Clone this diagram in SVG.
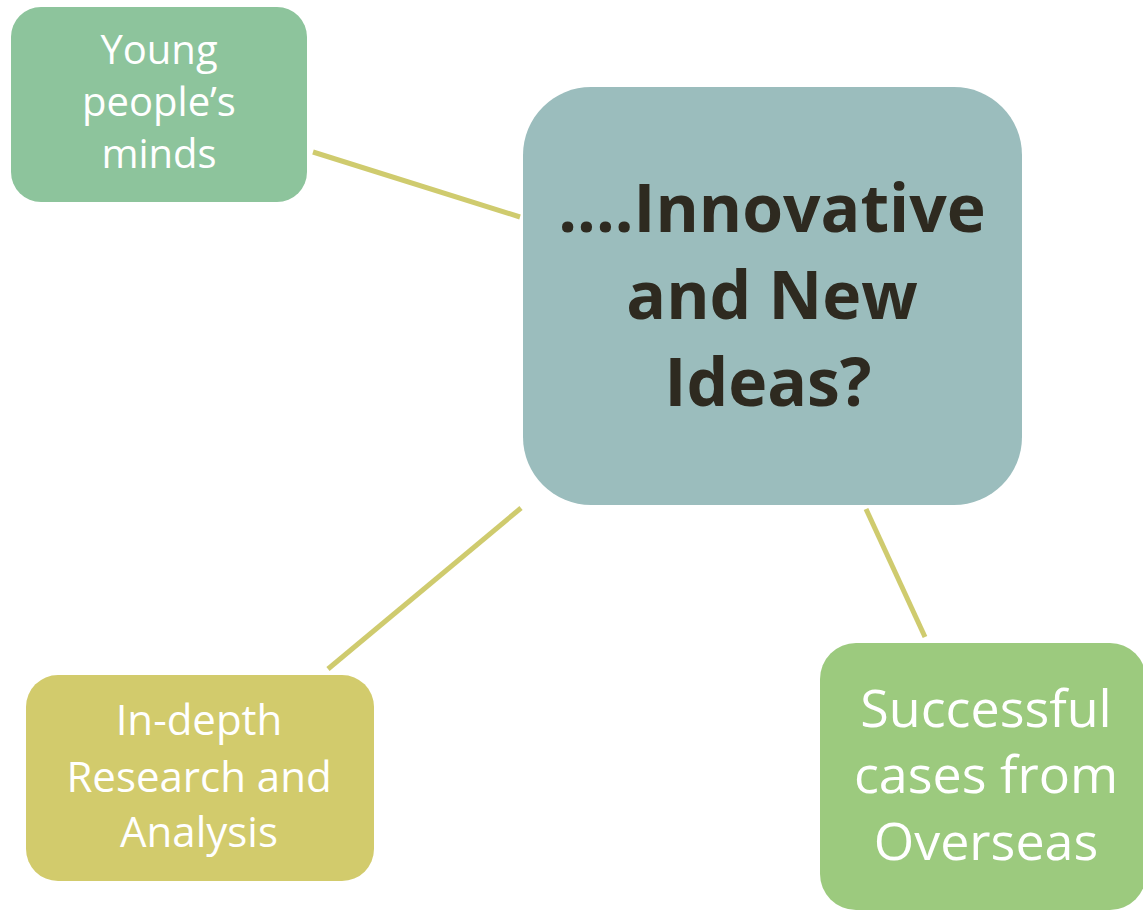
<svg xmlns="http://www.w3.org/2000/svg" width="1143" height="911" viewBox="0 0 1143 911">
  <style>
    .lbl { font-family: "Open Sans", "Noto Sans", "Liberation Sans", sans-serif; fill: #ffffff; text-anchor: middle; }
    .main { font-family: "Open Sans", "Noto Sans", "Liberation Sans", sans-serif; font-weight: bold; fill: #2e2a20; text-anchor: middle; font-size: 66px; }
    .conn { stroke: #cfcb6e; stroke-width: 5; fill: none; }
  </style>
  <rect width="1143" height="911" fill="#ffffff"/>
  <g id="connectors">
    <line class="conn" x1="313" y1="152" x2="520" y2="217"/>
    <line class="conn" x1="521" y1="508" x2="328" y2="669"/>
    <line class="conn" x1="866" y1="509" x2="925" y2="637"/>
  </g>
  <g id="node-young">
    <rect x="11" y="7" width="296" height="195" rx="30" fill="#8dc49c"/>
    <text class="lbl" font-size="40" x="159" y="64">Young</text>
    <text class="lbl" font-size="40" x="159" y="116">people’s</text>
    <text class="lbl" font-size="40" x="159" y="168">minds</text>
  </g>
  <g id="node-center">
    <rect x="523" y="87" width="499" height="418" rx="68" fill="#9bbdbd"/>
    <text class="main" x="772" y="232">....Innovative</text>
    <text class="main" x="772" y="319">and New</text>
    <text class="main" x="768" y="406">Ideas?</text>
  </g>
  <g id="node-research">
    <rect x="26" y="675" width="348" height="206" rx="32" fill="#d2cb6c"/>
    <text class="lbl" font-size="42" x="199" y="735">In-depth</text>
    <text class="lbl" font-size="42" x="199" y="792">Research and</text>
    <text class="lbl" font-size="42" x="199" y="847">Analysis</text>
  </g>
  <g id="node-overseas">
    <rect x="820" y="643" width="326" height="267" rx="36" fill="#9cca7e"/>
    <text class="lbl" font-size="52" x="986" y="727">Successful</text>
    <text class="lbl" font-size="52" x="986" y="793">cases from</text>
    <text class="lbl" font-size="52" x="986" y="860">Overseas</text>
  </g>
</svg>
